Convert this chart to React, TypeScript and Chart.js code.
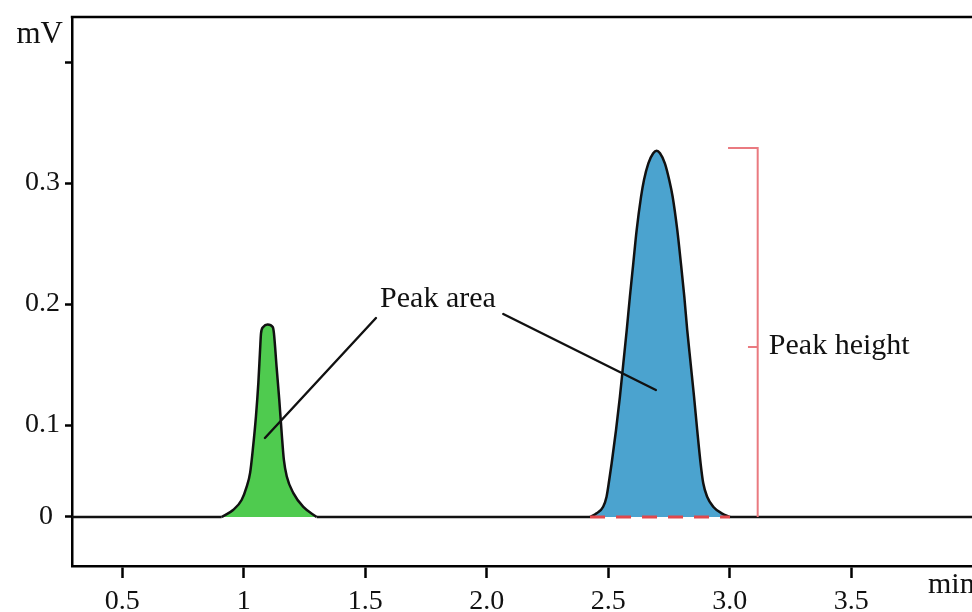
import React, { useEffect, useRef } from "react";
import { Chart, registerables, LinearScale } from "chart.js";

// ---------- data ----------
const xMin = 0.293;
const xMax = 3.997;
const xTickValues = [0.5, 1, 1.5, 2, 2.5, 3, 3.5];
const xTickLabels = ["0.5", "1", "1.5", "2.0", "2.5", "3.0", "3.5"];
const yTickValues = [0, 0.1, 0.2, 0.3, 0.4];
const yTickLabels = ["0 ", "0.1", "0.2", "0.3", ""];

const greenPeakX = [0.909, 0.956, 0.991, 1.012, 1.026, 1.037, 1.05, 1.06, 1.067, 1.071, 1.08, 1.098, 1.119, 1.124, 1.135, 1.146, 1.156, 1.165, 1.177, 1.204, 1.245, 1.3];
const greenPeakY = [0, 0.0076, 0.0185, 0.033, 0.048, 0.073, 0.107, 0.135, 0.162, 0.176, 0.181, 0.183, 0.181, 0.176, 0.148, 0.121, 0.091, 0.062, 0.044, 0.026, 0.011, 0];

const bluePeakX = [2.425, 2.452, 2.479, 2.493, 2.504, 2.514, 2.532, 2.548, 2.562, 2.576, 2.589, 2.603, 2.617, 2.635, 2.647, 2.665, 2.685, 2.699, 2.713, 2.733, 2.751, 2.765, 2.784, 2.799, 2.813, 2.825, 2.839, 2.853, 2.866, 2.88, 2.891, 2.907, 2.932, 2.967, 3.001];
const bluePeakY = [0, 0.004, 0.0112, 0.0221, 0.0402, 0.0584, 0.0946, 0.1234, 0.151, 0.1785, 0.206, 0.2336, 0.2612, 0.2887, 0.3025, 0.3163, 0.3246, 0.3267, 0.3246, 0.3163, 0.3025, 0.2887, 0.2612, 0.2336, 0.206, 0.1785, 0.151, 0.1234, 0.0946, 0.0584, 0.0366, 0.0221, 0.0112, 0.004, 0];

const baselineX = [xMin, 0.909, null, 1.3, 2.425, null, 3.001, xMax];

const bracketX = [2.993, 3.115, 3.115, null, 3.075, 3.115];
const bracketY = [0.329, 0.329, 0, null, 0.1645, 0.1645];

const dashX = [2.425, 3.001];

const pointerA = [[1.087, 0.0859], [1.544, 0.1884]];
const pointerB = [[2.068, 0.1917], [2.696, 0.1289]];

const labelPeakArea = { text: "Peak area", x: 1.561, y: 0.1975 };
const labelPeakHeight = { text: "Peak height", x: 3.161, y: 0.1587 };
const yUnit = "mV";
const xUnit = "min";

// ---------- piecewise y scale (as drawn in the reference) ----------
const K = 92 / 121;
const warp = (v: number) => (v >= 0.1 ? v : 0.1 - (0.1 - v) * K);
const unwarp = (u: number) => (u >= 0.1 ? u : 0.1 - (0.1 - u) / K);

class PiecewiseScale extends LinearScale {
  static id = "piecewise";
  static defaults = (LinearScale as any).defaults;
  getPixelForValue(value: any) {
    if (value === null || value === undefined || isNaN(value)) return NaN;
    return super.getPixelForValue(warp(value));
  }
  getValueForPixel(pixel: number) {
    return unwarp(super.getValueForPixel(pixel) as number);
  }
}

Chart.register(...registerables, PiecewiseScale as any);

const SERIF = "'Liberation Serif', 'DejaVu Serif', serif";

const pts = (xs: (number | null)[], ys: (number | null)[] | number) =>
  xs.map((x, i) => ({ x: x as number, y: x === null ? (null as any) : typeof ys === "number" ? ys : (ys[i] as number) }));

const annotationPlugin = {
  id: "annotations",
  afterDatasetsDraw(chart: any) {
    const { ctx, chartArea, scales } = chart;
    const xs = scales.x;
    const ys = scales.y;
    ctx.save();
    // top frame line
    ctx.strokeStyle = "#000";
    ctx.lineWidth = 2.5;
    ctx.beginPath();
    ctx.moveTo(chartArea.left - 1.2, chartArea.top);
    ctx.lineTo(chart.width, chartArea.top);
    ctx.stroke();
    // pointer lines
    ctx.strokeStyle = "#111";
    ctx.lineWidth = 2.4;
    ctx.lineCap = "round";
    for (const p of [pointerA, pointerB]) {
      ctx.beginPath();
      ctx.moveTo(xs.getPixelForValue(p[0][0]), ys.getPixelForValue(p[0][1]));
      ctx.lineTo(xs.getPixelForValue(p[1][0]), ys.getPixelForValue(p[1][1]));
      ctx.stroke();
    }
    // text labels
    ctx.fillStyle = "#111";
    ctx.font = `30px ${SERIF}`;
    ctx.textAlign = "left";
    ctx.textBaseline = "alphabetic";
    for (const l of [labelPeakArea, labelPeakHeight]) {
      ctx.fillText(l.text, xs.getPixelForValue(l.x), ys.getPixelForValue(l.y));
    }
    ctx.font = `31px ${SERIF}`;
    ctx.textAlign = "right";
    ctx.fillText(yUnit, chartArea.left - 9, chartArea.top + 26);
    ctx.font = `30px ${SERIF}`;
    ctx.textAlign = "left";
    ctx.fillText(xUnit, chartArea.right - 44, chartArea.bottom + 27);
    ctx.restore();
  },
};

export default function App() {
  const ref = useRef<HTMLCanvasElement | null>(null);
  useEffect(() => {
    if (!ref.current) return;
    const chart = new Chart(ref.current, {
      type: "line",
      data: {
        datasets: [
          {
            label: "dash",
            data: pts(dashX, 0),
            borderColor: "#e0484c",
            borderWidth: 3,
            borderDash: [15, 11],
            pointRadius: 0,
            fill: false,
          },
          {
            label: "bracket",
            data: pts(bracketX, bracketY),
            borderColor: "#ea7a80",
            borderWidth: 2,
            pointRadius: 0,
            spanGaps: false,
            fill: false,
            tension: 0,
          },
          {
            label: "green",
            data: pts(greenPeakX, greenPeakY),
            borderColor: "#111",
            borderWidth: 2.5,
            backgroundColor: "#4fcb4f",
            fill: "origin",
            pointRadius: 0,
            cubicInterpolationMode: "monotone",
          },
          {
            label: "blue",
            data: pts(bluePeakX, bluePeakY),
            borderColor: "#111",
            borderWidth: 2.5,
            backgroundColor: "#4ba3cf",
            fill: "origin",
            pointRadius: 0,
            cubicInterpolationMode: "monotone",
          },
          {
            label: "baseline",
            data: pts(baselineX, 0),
            borderColor: "#111",
            borderWidth: 2.5,
            pointRadius: 0,
            spanGaps: false,
            fill: false,
          },
        ],
      },
      options: {
        animation: false,
        responsive: false,
        maintainAspectRatio: false,
        events: [],
        layout: { padding: { top: 17, right: 0, left: 0, bottom: 0 } },
        plugins: { legend: { display: false }, tooltip: { enabled: false }, title: { display: false } },
        scales: {
          x: {
            type: "linear",
            min: xMin,
            max: xMax,
            afterFit: (s: any) => {
              s.height = 46;
              s.paddingLeft = 0;
              s.paddingRight = 0;
            },
            afterBuildTicks: (s: any) => {
              s.ticks = xTickValues.map((v) => ({ value: v }));
            },
            ticks: {
              autoSkip: false,
              maxRotation: 0,
              padding: 7,
              color: "#111",
              font: { family: SERIF, size: 28 },
              callback: (v: any) => {
                const i = xTickValues.indexOf(Number(v));
                return i >= 0 ? xTickLabels[i] : "";
              },
            },
            grid: { drawOnChartArea: false, drawTicks: true, tickLength: 12, tickWidth: 2.5, tickColor: "#000" },
            border: { display: true, color: "#000", width: 2.5 },
          },
          y: {
            type: "piecewise" as any,
            min: -0.01653,
            max: 0.4372,
            afterFit: (s: any) => {
              s.width = 72;
              s.paddingTop = 0;
              s.paddingBottom = 0;
            },
            afterBuildTicks: (s: any) => {
              s.ticks = yTickValues.map((v) => ({ value: v }));
            },
            ticks: {
              autoSkip: false,
              padding: 5,
              color: "#111",
              font: { family: SERIF, size: 28 },
              callback: (v: any) => {
                const i = yTickValues.findIndex((t) => Math.abs(t - Number(v)) < 1e-9);
                return i >= 0 ? yTickLabels[i] : "";
              },
            },
            grid: { drawOnChartArea: false, drawTicks: true, tickLength: 7, tickWidth: 2.5, tickColor: "#000" },
            border: { display: true, color: "#000", width: 2.5 },
          },
        },
      } as any,
      plugins: [annotationPlugin],
    });
    return () => chart.destroy();
  }, []);
  return (
    <div style={{ position: "absolute", left: 0, top: 0, width: 972, height: 612, background: "#fff" }}>
      <canvas ref={ref} width={972} height={612} style={{ width: 972, height: 612, display: "block" }} />
    </div>
  );
}
